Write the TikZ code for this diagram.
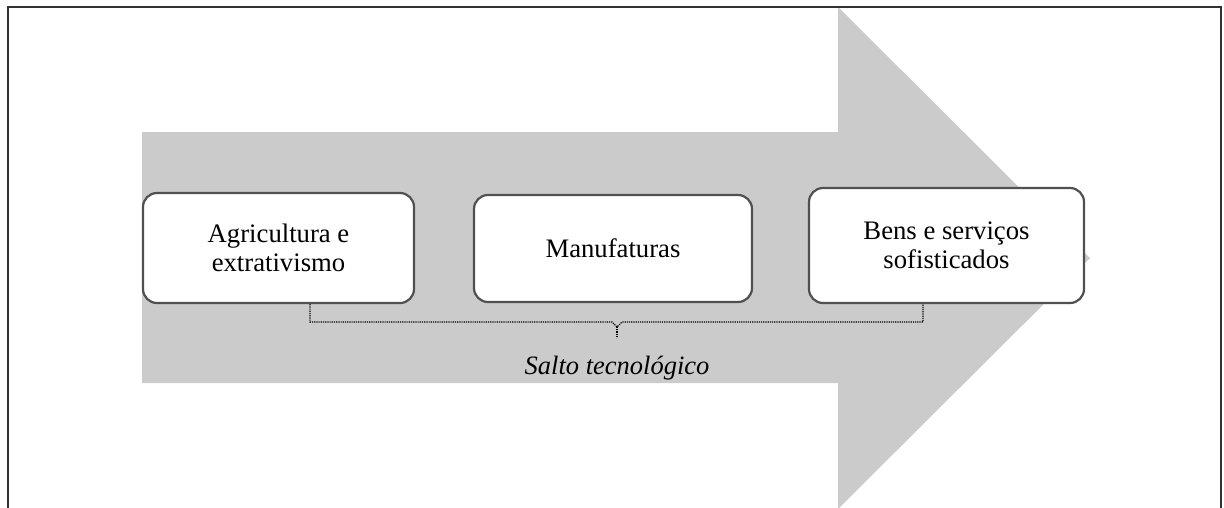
\documentclass[tikz,border=0pt]{standalone}
\usepackage{fontspec}
\setmainfont{Liberation Serif}
\definecolor{arrowgray}{RGB}{203,203,203}
\definecolor{boxline}{RGB}{80,80,80}
\definecolor{frameline}{RGB}{50,50,50}
\tikzset{
  stagebox/.style={draw=boxline, line width=2.2pt, fill=white, rounded corners=14pt,
    align=center, font=\fontsize{26.7}{29}\selectfont, inner sep=0pt},
  bracketline/.style={black, line width=1.1pt, dash pattern=on 1.2pt off 1pt},
  frame/.style={draw=frameline, line width=1.6pt}
}
\begin{document}
\begin{tikzpicture}[x=1pt,y=-1pt]
\useasboundingbox (0,0) rectangle (1224,507);
\begin{scope}
\clip (0,0) rectangle (1224,507);
\fill[arrowgray] (142,132) -- (838,132) -- (838,7) -- (1090,258) -- (838,509) -- (838,383) -- (142,383) -- cycle;
\draw[frame] (8,515) -- (8,7) -- (1221,7) -- (1221,515);
\end{scope}
\node[stagebox, minimum width=271pt, minimum height=110pt] (agr) at (278.5,248) {Agricultura e\\extrativismo};
\node[stagebox, minimum width=278pt, minimum height=107pt] (man) at (613,248.5) {Manufaturas};
\node[stagebox, minimum width=275pt, minimum height=115pt] (bens) at (946.5,245.5) {Bens e serviços\\sofisticados};
\coordinate (mid) at (617,327);
\coordinate (tick) at (617,338);
\draw[bracketline] ([xshift=31.5pt]agr.south) -- (310,322) -- (612,322) -- (mid) -- (622,322) -- (923,322) -- ([xshift=-23.5pt]bens.south);
\draw[bracketline] (mid) -- (tick);
\node[font=\fontsize{26.5}{28}\selectfont\itshape] (salto) at (617,368) {Salto tecnológico};
\end{tikzpicture}
\end{document}
